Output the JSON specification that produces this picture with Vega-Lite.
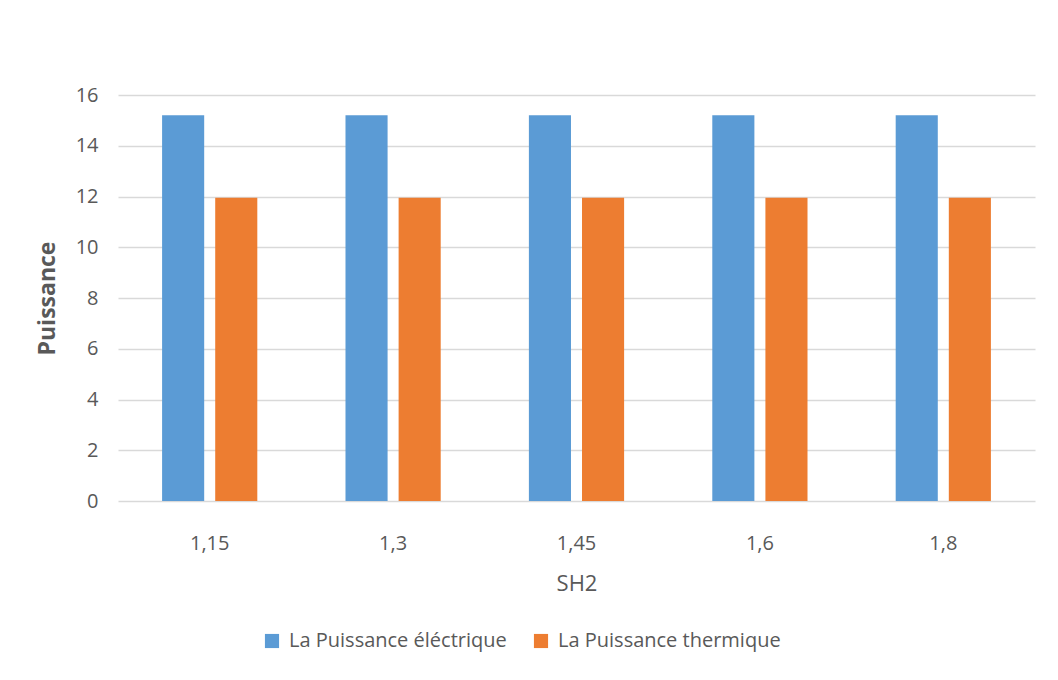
{
  "$schema": "https://vega.github.io/schema/vega-lite/v6.json",
  "width": 917,
  "height": 406,
  "autosize": {"type": "none"},
  "padding": {"left": 118, "top": 95, "right": 23, "bottom": 179},
  "background": "white",
  "config": {
    "view": {"stroke": null},
    "font": "Open Sans",
    "axis": {"labelColor": "#595959", "titleColor": "#595959", "labelFont": "Open Sans", "titleFont": "Open Sans"}
  },
  "data": {
    "values": [
      {"SH2": "1,15", "serie": "La Puissance éléctrique", "val": 15.2},
      {"SH2": "1,15", "serie": "La Puissance thermique", "val": 11.95},
      {"SH2": "1,3", "serie": "La Puissance éléctrique", "val": 15.2},
      {"SH2": "1,3", "serie": "La Puissance thermique", "val": 11.95},
      {"SH2": "1,45", "serie": "La Puissance éléctrique", "val": 15.2},
      {"SH2": "1,45", "serie": "La Puissance thermique", "val": 11.95},
      {"SH2": "1,6", "serie": "La Puissance éléctrique", "val": 15.2},
      {"SH2": "1,6", "serie": "La Puissance thermique", "val": 11.95},
      {"SH2": "1,8", "serie": "La Puissance éléctrique", "val": 15.2},
      {"SH2": "1,8", "serie": "La Puissance thermique", "val": 11.95}
    ]
  },
  "mark": {"type": "bar"},
  "encoding": {
    "x": {
      "field": "SH2", "type": "nominal", "sort": null,
      "scale": {"paddingInner": 0, "paddingOuter": 0},
      "axis": {
        "title": "SH2", "labelAngle": 0, "ticks": false, "domain": false,
        "labelFontSize": 20, "labelPadding": 32,
        "titleFontSize": 22, "titleFontWeight": "normal",
        "titleY": 82, "titleBaseline": "middle", "grid": false
      }
    },
    "xOffset": {
      "field": "serie", "type": "nominal",
      "sort": ["La Puissance éléctrique", "La Puissance thermique"],
      "scale": {"paddingInner": 0.2075, "paddingOuter": 0.83}
    },
    "y": {
      "field": "val", "type": "quantitative",
      "scale": {"domain": [0, 16]},
      "axis": {
        "title": "Puissance", "values": [0, 2, 4, 6, 8, 10, 12, 14, 16],
        "ticks": false, "domain": false,
        "gridColor": "#d9d9d9", "gridWidth": 1.5,
        "labelFontSize": 20, "labelPadding": 20,
        "titleFontSize": 23, "titleFontWeight": "bold",
        "titleX": -71, "titleY": 203, "titleAngle": -90, "titleBaseline": "middle", "titleAlign": "center"
      }
    },
    "color": {
      "field": "serie", "type": "nominal",
      "sort": ["La Puissance éléctrique", "La Puissance thermique"],
      "scale": {"range": ["#5b9bd5", "#ed7d31"]},
      "legend": {
        "title": null, "orient": "none", "direction": "horizontal",
        "legendX": 144, "legendY": 536,
        "symbolType": "square", "symbolSize": 200, "symbolStrokeWidth": 0,
        "labelFontSize": 20, "labelColor": "#595959", "labelFont": "Open Sans", "labelLimit": 400,
        "columnPadding": 24, "labelOffset": 7
      }
    }
  }
}
